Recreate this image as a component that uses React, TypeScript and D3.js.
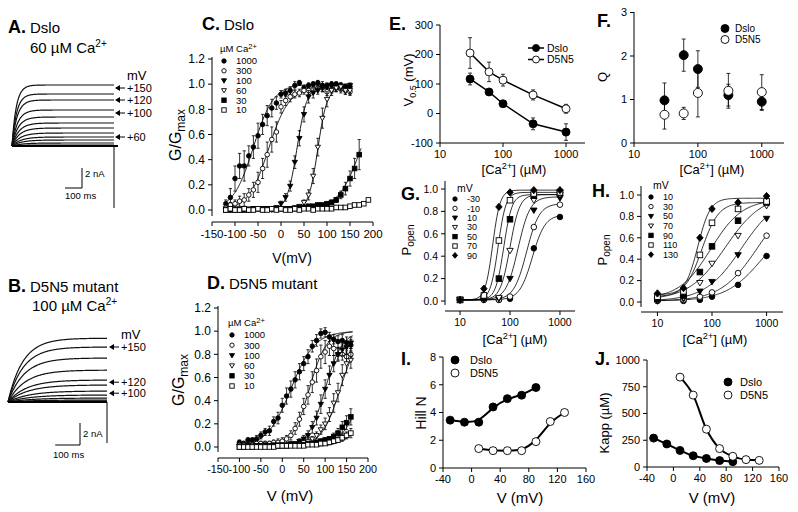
import React from 'react';
import * as d3 from 'd3';

const FONT = '"Liberation Sans", Arial, Helvetica, sans-serif';

// ---------- A / B : current traces (steady amplitude in nA, activation tau in ms)
const ampA = [6.1, 5.2, 4.6, 3.6, 2.9, 2.3, 1.8, 1.3, 0.9, 0.6, 0.3, 0.1];
const tauA = [25, 27, 30, 33, 36, 40, 44, 48, 52, 56, 60, 60];
const arrowA: [string, number][] = [['+150', 5.8], ['+120', 4.6], ['+100', 3.3], ['+60', 0.9]];
const ampB = [5.8, 5.0, 4.0, 2.9, 2.0, 1.55, 1.0, 0.64, 0.36, 0.18, 0.08];
const tauB = [60, 62, 65, 70, 75, 80, 85, 90, 95, 100, 100];
const arrowB: [string, number][] = [['+150', 5.0], ['+120', 1.8], ['+100', 0.8]];

// ---------- C : Dslo G/Gmax vs V
const caLabels = ['1000', '300', '100', '60', '30', '10'];
const caMarkers = ['fc', 'oc', 'ft', 'ot', 'fs', 'os'];
const vC = [-120, -110, -100, -90, -80, -70, -60, -50, -40, -30, -20, -10, 0, 10, 20, 30, 40, 50, 60, 70, 80, 90, 100, 110, 120, 130, 140, 150];
const vC30 = [...vC, 160, 170];
const vC10 = [...vC, 160, 170, 180, 190];
const gC1000 = [0.05, 0.10, 0.25, 0.35, 0.35, 0.43, 0.50, 0.59, 0.68, 0.75, 0.81, 0.85, 0.92, 0.93, 0.95, 0.99, 1.01, 0.97, 0.99, 1.00, 1.01, 0.99, 0.99, 1.00, 1.00, 0.99, 0.98, 0.98];
const eC1000 = [0.03, 0.07, 0.10, 0.10, 0.12, 0.08, 0.09, 0.10, 0.08, 0.08, 0.07, 0.05, 0.03, 0.03, 0.03, 0.03, 0.02, 0.02, 0.02, 0.02, 0.02, 0.03, 0.02, 0.02, 0.02, 0.02, 0.02, 0.02];
const gC300 = [0.02, 0.04, 0.05, 0.07, 0.08, 0.12, 0.16, 0.22, 0.33, 0.44, 0.56, 0.62, 0.82, 0.87, 0.90, 0.92, 0.93, 0.95, 0.95, 0.96, 0.97, 0.97, 0.94, 0.96, 0.97, 0.96, 0.95, 0.94];
const eC300 = [0.02, 0.02, 0.03, 0.04, 0.05, 0.05, 0.06, 0.08, 0.08, 0.10, 0.10, 0.08, 0.05, 0.04, 0.04, 0.03, 0.03, 0.03, 0.03, 0.03, 0.03, 0.03, 0.03, 0.03, 0.03, 0.03, 0.03, 0.03];
const gC100 = [0.01, 0.01, 0.01, 0.01, 0.01, 0.01, 0.01, 0.01, 0.01, 0.01, 0.01, 0.02, 0.05, 0.10, 0.19, 0.38, 0.57, 0.76, 0.90, 0.93, 0.95, 0.97, 0.98, 0.99, 0.99, 0.98, 0.97, 0.99];
const eC100 = [0, 0, 0, 0, 0, 0, 0, 0, 0, 0, 0, 0.01, 0.02, 0.03, 0.04, 0.05, 0.06, 0.06, 0.05, 0.04, 0.03, 0.03, 0.02, 0.02, 0.02, 0.02, 0.02, 0.02];
const gC60 = [0.00, 0.00, 0.00, 0.00, 0.01, 0.00, 0.00, 0.01, 0.00, 0.01, 0.00, 0.01, 0.01, 0.01, 0.01, 0.02, 0.03, 0.06, 0.12, 0.27, 0.50, 0.73, 0.88, 0.95, 0.97, 0.98, 0.95, 0.95];
const eC60 = [0, 0, 0, 0, 0, 0, 0, 0, 0, 0, 0, 0, 0, 0, 0.01, 0.01, 0.01, 0.02, 0.04, 0.06, 0.07, 0.08, 0.06, 0.04, 0.03, 0.03, 0.03, 0.03];
const gC30 = [0, 0, 0, 0, 0, 0, 0.01, 0.01, 0.01, 0.01, 0.01, 0.01, 0.01, 0.01, 0.01, 0.01, 0.02, 0.02, 0.03, 0.03, 0.04, 0.04, 0.05, 0.06, 0.08, 0.12, 0.17, 0.25, 0.33, 0.44];
const eC30 = [0, 0, 0, 0, 0, 0, 0, 0, 0, 0, 0, 0, 0, 0, 0, 0, 0.01, 0.01, 0.01, 0.01, 0.01, 0.01, 0.01, 0.02, 0.02, 0.03, 0.05, 0.06, 0.08, 0.12];
const gC10 = [0, 0.01, 0, 0, 0.01, 0, 0, 0.01, 0, 0, 0.01, 0, 0.01, 0, 0, 0.01, 0, 0.01, 0.01, 0, 0.01, 0.01, 0.01, 0.01, 0.02, 0.02, 0.02, 0.03, 0.04, 0.04, 0.05, 0.08];
const eC10 = [0, 0, 0, 0, 0, 0, 0, 0, 0, 0, 0, 0, 0, 0, 0, 0, 0, 0, 0, 0, 0, 0, 0, 0, 0, 0, 0.01, 0.01, 0.01, 0.01, 0.01, 0.01];
// Boltzmann fits [V1/2, slope, Gmax]
const fitC = [[-60, 22, 1], [-27, 22, 0.97], [35, 11, 0.99], [80, 10, 0.97], [175, 25, 1], [250, 25, 1]];

// ---------- D : D5N5 G/Gmax vs V
const vD = [-100, -90, -80, -70, -60, -50, -40, -30, -20, -10, 0, 10, 20, 30, 40, 50, 60, 70, 80, 90, 100, 110, 120, 130, 140, 150, 160];
const gD1000 = [0.04, 0.03, 0.06, 0.06, 0.07, 0.10, 0.13, 0.14, 0.22, 0.25, 0.36, 0.44, 0.50, 0.58, 0.65, 0.72, 0.78, 0.87, 0.92, 0.98, 0.99, 0.95, 0.93, 0.91, 0.92, 0.90, 0.88];
const eD1000 = [0.02, 0.02, 0.02, 0.02, 0.03, 0.03, 0.03, 0.04, 0.04, 0.05, 0.06, 0.07, 0.07, 0.07, 0.07, 0.06, 0.06, 0.05, 0.05, 0.04, 0.04, 0.04, 0.04, 0.05, 0.05, 0.05, 0.05];
const gD300 = [0.02, 0.02, 0.02, 0.02, 0.03, 0.03, 0.03, 0.03, 0.04, 0.04, 0.05, 0.07, 0.10, 0.16, 0.24, 0.35, 0.45, 0.56, 0.66, 0.78, 0.82, 0.87, 0.85, 0.80, 0.80, 0.78, 0.80];
const eD300 = [0.02, 0.02, 0.02, 0.02, 0.02, 0.02, 0.02, 0.02, 0.02, 0.03, 0.03, 0.03, 0.04, 0.05, 0.06, 0.07, 0.08, 0.09, 0.10, 0.10, 0.10, 0.08, 0.06, 0.05, 0.05, 0.05, 0.05];
const gD100 = [0.01, 0.01, 0.01, 0.01, 0.01, 0.01, 0.02, 0.01, 0.02, 0.02, 0.02, 0.02, 0.03, 0.03, 0.05, 0.07, 0.10, 0.17, 0.25, 0.37, 0.50, 0.62, 0.72, 0.80, 0.84, 0.86, 0.90];
const eD100 = [0.01, 0.01, 0.01, 0.01, 0.01, 0.01, 0.01, 0.01, 0.01, 0.01, 0.01, 0.01, 0.01, 0.01, 0.02, 0.03, 0.04, 0.05, 0.06, 0.08, 0.08, 0.08, 0.07, 0.06, 0.05, 0.05, 0.05];
const gD60 = [0.01, 0.01, 0.01, 0.01, 0.01, 0.01, 0.01, 0.01, 0.01, 0.01, 0.02, 0.02, 0.02, 0.03, 0.03, 0.04, 0.05, 0.07, 0.10, 0.15, 0.20, 0.28, 0.38, 0.47, 0.62, 0.72, 0.75];
const eD60 = [0.01, 0.01, 0.01, 0.01, 0.01, 0.01, 0.01, 0.01, 0.01, 0.01, 0.01, 0.01, 0.01, 0.01, 0.01, 0.01, 0.02, 0.02, 0.03, 0.04, 0.05, 0.06, 0.08, 0.08, 0.09, 0.08, 0.07];
const gD30 = [0, 0, 0.01, 0, 0.01, 0.01, 0.01, 0.01, 0.01, 0.01, 0.01, 0.01, 0.02, 0.02, 0.02, 0.02, 0.03, 0.03, 0.04, 0.05, 0.06, 0.07, 0.09, 0.12, 0.17, 0.21, 0.26];
const eD30 = [0.01, 0.01, 0.01, 0.01, 0.01, 0.01, 0.01, 0.01, 0.01, 0.01, 0.01, 0.01, 0.01, 0.01, 0.01, 0.01, 0.01, 0.01, 0.01, 0.02, 0.02, 0.02, 0.03, 0.04, 0.05, 0.06, 0.07];
const gD10 = [0, 0, 0, 0, 0, 0, 0, 0, 0, 0.01, 0.01, 0.01, 0.01, 0.01, 0.01, 0.01, 0.02, 0.02, 0.02, 0.03, 0.03, 0.04, 0.05, 0.06, 0.08, 0.10, 0.12];
const eD10 = [0, 0, 0, 0, 0, 0, 0, 0, 0, 0, 0, 0, 0, 0, 0, 0.01, 0.01, 0.01, 0.01, 0.01, 0.01, 0.02, 0.02, 0.02, 0.03, 0.03, 0.04];
const fitD = [[20, 28, 1], [63, 20, 1], [100, 20, 1], [135, 22, 1], [190, 25, 1], [220, 28, 1]];

// ---------- E : V1/2 vs [Ca]
const caE = [30, 60, 100, 300, 1000];
const v05Dslo = [117, 73, 33, -35, -63];
const v05DsloErr = [20, 10, 6, 20, 28];
const v05D5N5 = [205, 141, 113, 63, 16];
const v05D5N5Err = [52, 33, 20, 17, 15];

// ---------- F : Q vs [Ca]
const qDslo = [0.98, 2.02, 1.7, 1.1, 0.95];
const qDsloErr = [0.4, 0.37, 0.42, 0.25, 0.2];
const qD5N5 = [0.65, 0.68, 1.15, 1.2, 1.17];
const qD5N5Err = [0.33, 0.14, 0.55, 0.4, 0.4];

// ---------- G / H : Popen vs [Ca]
const caGH = [10, 30, 60, 100, 300, 1000];
const vG = ['-30', '-10', '10', '30', '50', '70', '90'];
const markersGH = ['fc', 'oc', 'ft', 'ot', 'fs', 'os', 'fd'];
const popenG = [
  [0.01, 0.01, 0.01, 0.02, 0.47, 0.75],
  [0.01, 0.01, 0.01, 0.04, 0.66, 0.86],
  [0.01, 0.01, 0.02, 0.20, 0.81, 0.92],
  [0.01, 0.02, 0.03, 0.45, 0.90, 0.95],
  [0.01, 0.03, 0.20, 0.73, 0.94, 0.97],
  [0.01, 0.05, 0.54, 0.90, 0.96, 0.97],
  [0.01, 0.11, 0.84, 0.97, 0.99, 0.99],
];
const kG = [280, 215, 145, 100, 75, 58, 45];
const nG = [3.4, 3.4, 3.6, 4.5, 5.3, 5.6, 5.8];
const maxG = [0.77, 0.87, 0.93, 0.95, 0.95, 0.97, 0.99];
const baseG = [0.01, 0.01, 0.01, 0.01, 0.01, 0.01, 0.01];

const vH = ['10', '30', '50', '70', '90', '110', '130'];
const popenH = [
  [0.01, 0.01, 0.02, 0.05, 0.16, 0.43],
  [0.01, 0.02, 0.05, 0.09, 0.27, 0.62],
  [0.01, 0.03, 0.10, 0.19, 0.44, 0.78],
  [0.02, 0.04, 0.18, 0.36, 0.62, 0.90],
  [0.03, 0.06, 0.28, 0.52, 0.76, 0.93],
  [0.05, 0.10, 0.44, 0.74, 0.87, 0.94],
  [0.08, 0.13, 0.60, 0.87, 0.93, 0.99],
];
const kH = [840, 680, 350, 175, 95, 65, 55];
const nH = [1.3, 1.3, 1.3, 1.3, 1.5, 2.8, 3.8];
const maxH = [0.8, 1.0, 1.0, 1.0, 0.96, 0.93, 0.97];
const baseH = [0.01, 0.01, 0.01, 0.02, 0.03, 0.05, 0.07];

// ---------- I / J : Hill N and Kapp vs V
const vIDslo = [-30, -10, 10, 30, 50, 70, 90];
const vID5N5 = [10, 30, 50, 70, 90, 110, 130];
const hillDslo = [3.45, 3.3, 3.3, 4.4, 5.0, 5.25, 5.8];
const hillD5N5 = [1.4, 1.25, 1.25, 1.25, 1.9, 3.35, 4.0];
const kappDslo = [270, 215, 155, 105, 80, 60, 50];
const kappD5N5 = [840, 672, 353, 172, 100, 69, 62];

type Sc = (v: number) => number;

const Marker = ({ t, x, y, r }: { t: string; x: number; y: number; r: number }) => {
  const p = { fill: t[0] === 'f' ? '#000' : '#fff', stroke: '#000', strokeWidth: 0.9 };
  const s = t[1];
  if (s === 'c') return <circle cx={x} cy={y} r={r} {...p} />;
  if (s === 's') return <rect x={x - r} y={y - r} width={2 * r} height={2 * r} {...p} />;
  if (s === 't') return <path d={`M${x - r * 1.15},${y - r * 0.8}L${x + r * 1.15},${y - r * 0.8}L${x},${y + r * 1.15}Z`} {...p} />;
  return <path d={`M${x},${y - r * 1.3}L${x + r * 1.15},${y}L${x},${y + r * 1.3}L${x - r * 1.15},${y}Z`} {...p} />;
};

const ErrBars = ({ xs, ys, es, sx, sy, cap = 2 }: any) => (
  <g stroke="#000" strokeWidth={0.8}>
    {xs.map((v: number, i: number) => {
      if (!es[i]) return null;
      const x = sx(v);
      const y1 = sy(ys[i] - es[i]);
      const y2 = sy(ys[i] + es[i]);
      return (
        <g key={i}>
          <line x1={x} x2={x} y1={y1} y2={y2} />
          <line x1={x - cap} x2={x + cap} y1={y1} y2={y1} />
          <line x1={x - cap} x2={x + cap} y1={y2} y2={y2} />
        </g>
      );
    })}
  </g>
);

const YAxis = ({ x, sy, ticks, fmt, top, bottom, fs }: any) => (
  <g>
    <line x1={x} x2={x} y1={top} y2={bottom} stroke="#000" />
    {ticks.map((t: number) => (
      <g key={t}>
        <line x1={x - 4} x2={x} y1={sy(t)} y2={sy(t)} stroke="#000" />
        <text x={x - 7} y={sy(t)} dy="0.36em" textAnchor="end" fontSize={fs}>{fmt(t)}</text>
      </g>
    ))}
  </g>
);

const XAxis = ({ y, sx, ticks, fmt, left, right, fs }: any) => (
  <g>
    <line x1={left} x2={right} y1={y} y2={y} stroke="#000" />
    {ticks.map((t: number) => (
      <g key={t}>
        <line x1={sx(t)} x2={sx(t)} y1={y} y2={y + 4} stroke="#000" />
        <text x={sx(t)} y={y + fs + 4} textAnchor="middle" fontSize={fs}>{fmt(t)}</text>
      </g>
    ))}
  </g>
);

const Title = ({ x, y, letter, text }: any) => (
  <text x={x} y={y}>
    <tspan fontWeight="bold" fontSize={18}>{letter}</tspan>
    {text && <tspan fontSize={15} dx={4}>{text}</tspan>}
  </text>
);

const CaLabel = ({ x, y, fs }: any) => (
  <text x={x} y={y} fontSize={fs} textAnchor="middle">
    [Ca<tspan dy={-fs * 0.35} fontSize={fs * 0.7}>2+</tspan>
    <tspan dy={fs * 0.35}>] (µM)</tspan>
  </text>
);

const boltz = (v: number, p: number[]) => p[2] / (1 + Math.exp(-(v - p[0]) / p[1]));
const hill = (c: number, k: number, n: number, mx: number, b: number) => b + (mx - b) / (1 + Math.pow(k / c, n));

function traces(amps: number[], taus: number[], sx: Sc, sy: Sc, dur: number) {
  const ts = d3.range(0, dur + 0.1, 2);
  return amps.map((a, i) => {
    const line = d3.line<number>().x((t) => sx(t)).y((t) => sy(a * (1 - Math.exp(-t / taus[i]))));
    return <path key={i} d={line(ts) || ''} fill="none" stroke="#111" strokeWidth={1.2} />;
  });
}

function arrows(list: [string, number][], x0: number, sy: Sc) {
  return list.map(([lab, lev]) => {
    const y = sy(lev);
    return (
      <g key={lab}>
        <path d={`M${x0},${y}L${x0 + 5},${y - 3}L${x0 + 5},${y + 3}Z`} fill="#000" />
        <line x1={x0 + 4} x2={x0 + 10} y1={y} y2={y} stroke="#000" strokeWidth={1} />
        <text x={x0 + 12} y={y} dy="0.36em" fontSize={11}>{lab}</text>
      </g>
    );
  });
}

function gvPanel(series: any[], fits: number[][], sx: Sc, sy: Sc, r: number) {
  return series.map((s, i) => {
    const vs = d3.range(s.v[0], s.v[s.v.length - 1] + 5, 1);
    const line = d3.line<number>().x((v) => sx(v)).y((v) => sy(boltz(v, fits[i])));
    return (
      <g key={i}>
        <path d={line(vs) || ''} fill="none" stroke="#000" strokeWidth={0.9} />
        <ErrBars xs={s.v} ys={s.g} es={s.e} sx={sx} sy={sy} cap={1.6} />
        {s.v.map((v: number, j: number) => <Marker key={j} t={caMarkers[i]} x={sx(v)} y={sy(s.g[j])} r={r} />)}
      </g>
    );
  });
}

function caLegend(x: number, y0: number, dy: number, fs: number) {
  return (
    <g>
      <text x={x - 4} y={y0 - dy + 1} fontSize={fs}>
        µM Ca<tspan dy={-3} fontSize={fs * 0.8}>2+</tspan>
      </text>
      {caLabels.map((lab, i) => (
        <g key={lab}>
          <Marker t={caMarkers[i]} x={x} y={y0 + i * dy} r={2.2} />
          <text x={x + 12} y={y0 + i * dy} dy="0.35em" fontSize={fs}>{lab}</text>
        </g>
      ))}
    </g>
  );
}

function popenPanel(data: number[][], k: number[], n: number[], mx: number[], b: number[], sx: Sc, sy: Sc) {
  const cs = d3.range(0, 2.001, 0.02).map((e) => 10 * Math.pow(10, e));
  return data.map((row, i) => {
    const line = d3.line<number>().x((c) => sx(c)).y((c) => sy(hill(c, k[i], n[i], mx[i], b[i])));
    return (
      <g key={i}>
        <path d={line(cs) || ''} fill="none" stroke="#000" strokeWidth={0.8} />
        {row.map((p, j) => <Marker key={j} t={markersGH[i]} x={sx(caGH[j])} y={sy(p)} r={2.8} />)}
      </g>
    );
  });
}

function mvLegend(labels: string[], x: number, y0: number, dy: number) {
  return (
    <g>
      <text x={x + 2} y={y0 - dy + 2} fontSize={10.5}>mV</text>
      {labels.map((lab, i) => (
        <g key={lab}>
          <Marker t={markersGH[i]} x={x} y={y0 + i * dy} r={2.2} />
          <text x={x + 12} y={y0 + i * dy} dy="0.35em" fontSize={9}>{lab}</text>
        </g>
      ))}
    </g>
  );
}

export default function App() {
  // A, B
  const xA = d3.scaleLinear().domain([0, 600]).range([12, 114]);
  const yA = d3.scaleLinear().domain([0, 7]).range([146, 76]);
  const xB = d3.scaleLinear().domain([0, 400]).range([8, 107]);
  const yB = d3.scaleLinear().domain([0, 7]).range([402, 325]);
  // C, D
  const xC = d3.scaleLinear().domain([-150, 200]).range([212, 373]);
  const yC = d3.scaleLinear().domain([0, 1.2]).range([210, 59]);
  const xD = d3.scaleLinear().domain([-150, 200]).range([218, 368]);
  const yD = d3.scaleLinear().domain([0, 1.2]).range([447, 308]);
  // E, F
  const xE = d3.scaleLog().domain([10, 2000]).range([440, 585]);
  const yE = d3.scaleLinear().domain([-100, 300]).range([143, 25]);
  const xF = d3.scaleLog().domain([10, 2000]).range([634, 781]);
  const yF = d3.scaleLinear().domain([0, 3]).range([143, 12.5]);
  // G, H
  const xG = d3.scaleLog().domain([5, 2000]).range([445, 575]);
  const yG = d3.scaleLinear().domain([0, 1]).range([301, 189]);
  const xH = d3.scaleLog().domain([5, 2000]).range([641, 783]);
  const yH = d3.scaleLinear().domain([0, 1]).range([302, 195]);
  // I, J
  const xI = d3.scaleLinear().domain([-40, 160]).range([443, 586]);
  const yI = d3.scaleLinear().domain([0, 8]).range([468, 357]);
  const xJ = d3.scaleLinear().domain([-40, 160]).range([647, 779]);
  const yJ = d3.scaleLinear().domain([0, 1000]).range([467, 360]);

  const seriesC = [
    { v: vC, g: gC1000, e: eC1000 },
    { v: vC, g: gC300, e: eC300 },
    { v: vC, g: gC100, e: eC100 },
    { v: vC, g: gC60, e: eC60 },
    { v: vC30, g: gC30, e: eC30 },
    { v: vC10, g: gC10, e: eC10 },
  ];
  const seriesD = [
    { v: vD, g: gD1000, e: eD1000 },
    { v: vD, g: gD300, e: eD300 },
    { v: vD, g: gD100, e: eD100 },
    { v: vD, g: gD60, e: eD60 },
    { v: vD, g: gD30, e: eD30 },
    { v: vD, g: gD10, e: eD10 },
  ];

  const f1 = (t: number) => t.toFixed(1);
  const f0 = (t: number) => String(t);
  const lineE = d3.line<number>().x((c) => xE(c));
  const basisI = (xs: number[], ys: number[]) =>
    d3.line<number>().x((_, i) => xI(xs[i])).y((v) => yI(v)).curve(d3.curveBasis)(ys) || '';
  const monoJ = (xs: number[], ys: number[]) =>
    d3.line<number>().x((_, i) => xJ(xs[i])).y((v) => yJ(v)).curve(d3.curveMonotoneX)(ys) || '';

  const barA = { x: 82, y: 188 };
  const barB = { x: 80, y: 445 };

  return (
    <svg width={798} height={512} style={{ position: 'absolute', left: 0, top: 0, background: '#fff' }} fontFamily={FONT}>
      <rect width={798} height={512} fill="#fff" />

      {/* ---------- A ---------- */}
      <Title x={8} y={33} letter="A." text="Dslo" />
      <text x={30} y={53} fontSize={15}>60 µM Ca<tspan dy={-6} fontSize={10}>2+</tspan></text>
      <text x={127} y={80} fontSize={13}>mV</text>
      {traces(ampA, tauA, xA, yA, 600)}
      <line x1={xA(0)} x2={xA(600) + 4} y1={yA(0)} y2={yA(0)} stroke="#000" strokeWidth={2.2} />
      <line x1={xA(600)} x2={xA(600)} y1={yA(0)} y2={208} stroke="#000" strokeWidth={1} />
      {arrows(arrowA, 115, yA)}
      <path d={`M${barA.x},${barA.y - (yA(0) - yA(2))}V${barA.y}H${barA.x - (xA(100) - xA(0))}`} fill="none" stroke="#000" />
      <text x={barA.x + 3} y={177} fontSize={9.5}>2 nA</text>
      <text x={barA.x - 17} y={199} fontSize={9.5}>100 ms</text>

      {/* ---------- B ---------- */}
      <Title x={8} y={292} letter="B." text="D5N5 mutant" />
      <text x={32} y={311} fontSize={15}>100 µM Ca<tspan dy={-6} fontSize={10}>2+</tspan></text>
      <text x={121} y={339} fontSize={13}>mV</text>
      {traces(ampB, tauB, xB, yB, 400)}
      <line x1={xB(0)} x2={xB(400)} y1={yB(0)} y2={yB(0)} stroke="#000" strokeWidth={2} />
      <line x1={xB(400)} x2={xB(400)} y1={yB(0)} y2={443} stroke="#000" strokeWidth={1} />
      {arrows(arrowB, 109, yB)}
      <path d={`M${barB.x},${barB.y - (yB(0) - yB(2))}V${barB.y}H${barB.x - (xB(100) - xB(0))}`} fill="none" stroke="#000" />
      <text x={barB.x + 3} y={437} fontSize={9.5}>2 nA</text>
      <text x={barB.x - 27} y={458} fontSize={9.5}>100 ms</text>

      {/* ---------- C ---------- */}
      <Title x={202} y={30} letter="C." text="Dslo" />
      <YAxis x={212} sy={yC} ticks={[0, 0.2, 0.4, 0.6, 0.8, 1.0, 1.2]} fmt={f1} top={57} bottom={216} fs={12} />
      <XAxis y={222} sx={xC} ticks={[-150, -100, -50, 0, 50, 100, 150, 200]} fmt={f0} left={212} right={373} fs={11.5} />
      <text transform="translate(181,135) rotate(-90)" textAnchor="middle" fontSize={16}>
        G/G<tspan dy={4} fontSize={12}>max</tspan>
      </text>
      <text x={292} y={263} textAnchor="middle" fontSize={14}>V(mV)</text>
      {gvPanel(seriesC, fitC, xC, yC, 2.3)}
      {caLegend(224, 61, 9.8, 9.5)}

      {/* ---------- D ---------- */}
      <Title x={207} y={289} letter="D." text="D5N5 mutant" />
      <YAxis x={218} sy={yD} ticks={[0, 0.2, 0.4, 0.6, 0.8, 1.0, 1.2]} fmt={f1} top={306} bottom={452} fs={12} />
      <XAxis y={458} sx={xD} ticks={[-150, -100, -50, 0, 50, 100, 150, 200]} fmt={f0} left={218} right={368} fs={10.8} />
      <text transform="translate(184,380) rotate(-90)" textAnchor="middle" fontSize={16}>
        G/G<tspan dy={4} fontSize={12}>max</tspan>
      </text>
      <text x={290} y={501} textAnchor="middle" fontSize={15}>V (mV)</text>
      {gvPanel(seriesD, fitD, xD, yD, 2.3)}
      {caLegend(232, 335, 10.2, 9.5)}

      {/* ---------- E ---------- */}
      <Title x={389} y={30} letter="E." />
      <YAxis x={440} sy={yE} ticks={[-100, 0, 100, 200, 300]} fmt={f0} top={25} bottom={143} fs={11} />
      <XAxis y={143} sx={xE} ticks={[10, 100, 1000]} fmt={f0} left={440} right={585} fs={11} />
      <text transform="translate(413,80) rotate(-90)" textAnchor="middle" fontSize={13}>
        V<tspan dy={3} fontSize={9}>0.5</tspan><tspan dy={-3}> (mV)</tspan>
      </text>
      <CaLabel x={514} y={174} fs={13} />
      <path d={lineE.y((_, i) => yE(v05Dslo[i]))(caE) || ''} fill="none" stroke="#000" strokeWidth={1.5} />
      <path d={lineE.y((_, i) => yE(v05D5N5[i]))(caE) || ''} fill="none" stroke="#000" strokeWidth={1.5} />
      <ErrBars xs={caE} ys={v05Dslo} es={v05DsloErr} sx={xE} sy={yE} />
      <ErrBars xs={caE} ys={v05D5N5} es={v05D5N5Err} sx={xE} sy={yE} />
      {caE.map((c, i) => <Marker key={'a' + i} t="fc" x={xE(c)} y={yE(v05Dslo[i])} r={4} />)}
      {caE.map((c, i) => <Marker key={'b' + i} t="oc" x={xE(c)} y={yE(v05D5N5[i])} r={4} />)}
      <line x1={528} x2={544} y1={48} y2={48} stroke="#000" strokeWidth={1.5} />
      <Marker t="fc" x={536} y={48} r={3.5} />
      <text x={547} y={48} dy="0.35em" fontSize={10.5}>Dslo</text>
      <line x1={528} x2={544} y1={59.5} y2={59.5} stroke="#000" strokeWidth={1.5} />
      <Marker t="oc" x={536} y={59.5} r={3.5} />
      <text x={547} y={59.5} dy="0.35em" fontSize={10.5}>D5N5</text>

      {/* ---------- F ---------- */}
      <Title x={597} y={27} letter="F." />
      <YAxis x={634} sy={yF} ticks={[0, 1, 2, 3]} fmt={f0} top={12} bottom={143} fs={11} />
      <XAxis y={143} sx={xF} ticks={[10, 100, 1000]} fmt={f0} left={634} right={784} fs={11} />
      <text transform="translate(607,77) rotate(-90)" textAnchor="middle" fontSize={13}>Q</text>
      <CaLabel x={712} y={174} fs={13} />
      <ErrBars xs={caE} ys={qDslo} es={qDsloErr} sx={xF} sy={yF} />
      <ErrBars xs={caE} ys={qD5N5} es={qD5N5Err} sx={xF} sy={yF} />
      {caE.map((c, i) => <Marker key={'a' + i} t="fc" x={xF(c)} y={yF(qDslo[i])} r={4.5} />)}
      {caE.map((c, i) => <Marker key={'b' + i} t="oc" x={xF(c)} y={yF(qD5N5[i])} r={4.5} />)}
      <Marker t="fc" x={725} y={28.5} r={4} />
      <text x={735} y={28.5} dy="0.35em" fontSize={10}>Dslo</text>
      <Marker t="oc" x={725} y={39.5} r={4} />
      <text x={735} y={39.5} dy="0.35em" fontSize={10}>D5N5</text>

      {/* ---------- G ---------- */}
      <Title x={401} y={200} letter="G." />
      <YAxis x={445} sy={yG} ticks={[0, 0.2, 0.4, 0.6, 0.8, 1.0]} fmt={f1} top={181} bottom={305} fs={10.5} />
      <XAxis y={311} sx={xG} ticks={[10, 100, 1000]} fmt={f0} left={445} right={575} fs={10.5} />
      <text transform="translate(411,240) rotate(-90)" textAnchor="middle" fontSize={13}>
        P<tspan dy={3} fontSize={10}>open</tspan>
      </text>
      <CaLabel x={515} y={344} fs={13} />
      {popenPanel(popenG, kG, nG, maxG, baseG, xG, yG)}
      {mvLegend(vG, 455, 199, 9.4)}

      {/* ---------- H ---------- */}
      <Title x={592} y={197} letter="H." />
      <YAxis x={641} sy={yH} ticks={[0, 0.2, 0.4, 0.6, 0.8, 1.0]} fmt={f1} top={186} bottom={307} fs={10.5} />
      <XAxis y={312} sx={xH} ticks={[10, 100, 1000]} fmt={f0} left={641} right={783} fs={10.5} />
      <text transform="translate(607,250) rotate(-90)" textAnchor="middle" fontSize={13}>
        P<tspan dy={3} fontSize={10}>open</tspan>
      </text>
      <CaLabel x={715} y={344} fs={13} />
      {popenPanel(popenH, kH, nH, maxH, baseH, xH, yH)}
      {mvLegend(vH, 651, 197, 9.6)}

      {/* ---------- I ---------- */}
      <Title x={401} y={365} letter="I." />
      <YAxis x={443} sy={yI} ticks={[0, 2, 4, 6, 8]} fmt={f0} top={357} bottom={468} fs={11} />
      <XAxis y={468} sx={xI} ticks={[-40, 0, 40, 80, 120, 160]} fmt={f0} left={443} right={586} fs={11} />
      <text transform="translate(426,413) rotate(-90)" textAnchor="middle" fontSize={14}>Hill N</text>
      <text x={520} y={503} textAnchor="middle" fontSize={15}>V (mV)</text>
      <path d={basisI(vIDslo, hillDslo)} fill="none" stroke="#000" strokeWidth={2} />
      <path d={basisI(vID5N5, hillD5N5)} fill="none" stroke="#000" strokeWidth={2} />
      {vIDslo.map((v, i) => <Marker key={'a' + i} t="fc" x={xI(v)} y={yI(hillDslo[i])} r={4} />)}
      {vID5N5.map((v, i) => <Marker key={'b' + i} t="oc" x={xI(v)} y={yI(hillD5N5[i])} r={4} />)}
      <Marker t="fc" x={455} y={360} r={4} />
      <text x={470} y={360} dy="0.35em" fontSize={11}>Dslo</text>
      <Marker t="oc" x={455} y={373} r={4} />
      <text x={470} y={373} dy="0.35em" fontSize={11}>D5N5</text>

      {/* ---------- J ---------- */}
      <Title x={595} y={365} letter="J." />
      <YAxis x={647} sy={yJ} ticks={[0, 250, 500, 750, 1000]} fmt={f0} top={360} bottom={467} fs={11} />
      <XAxis y={467} sx={xJ} ticks={[-40, 0, 40, 80, 120, 160]} fmt={f0} left={647} right={779} fs={11} />
      <text transform="translate(609,423) rotate(-90)" textAnchor="middle" fontSize={13}>Kapp (µM)</text>
      <text x={712} y={503} textAnchor="middle" fontSize={15}>V (mV)</text>
      <path d={monoJ(vIDslo, kappDslo)} fill="none" stroke="#000" strokeWidth={2} />
      <path d={monoJ(vID5N5, kappD5N5)} fill="none" stroke="#000" strokeWidth={2} />
      {vIDslo.map((v, i) => <Marker key={'a' + i} t="fc" x={xJ(v)} y={yJ(kappDslo[i])} r={4} />)}
      {vID5N5.map((v, i) => <Marker key={'b' + i} t="oc" x={xJ(v)} y={yJ(kappD5N5[i])} r={4} />)}
      <Marker t="fc" x={728} y={382} r={4} />
      <text x={740} y={382} dy="0.35em" fontSize={11}>Dslo</text>
      <Marker t="oc" x={728} y={395} r={4} />
      <text x={740} y={395} dy="0.35em" fontSize={11}>D5N5</text>
    </svg>
  );
}
